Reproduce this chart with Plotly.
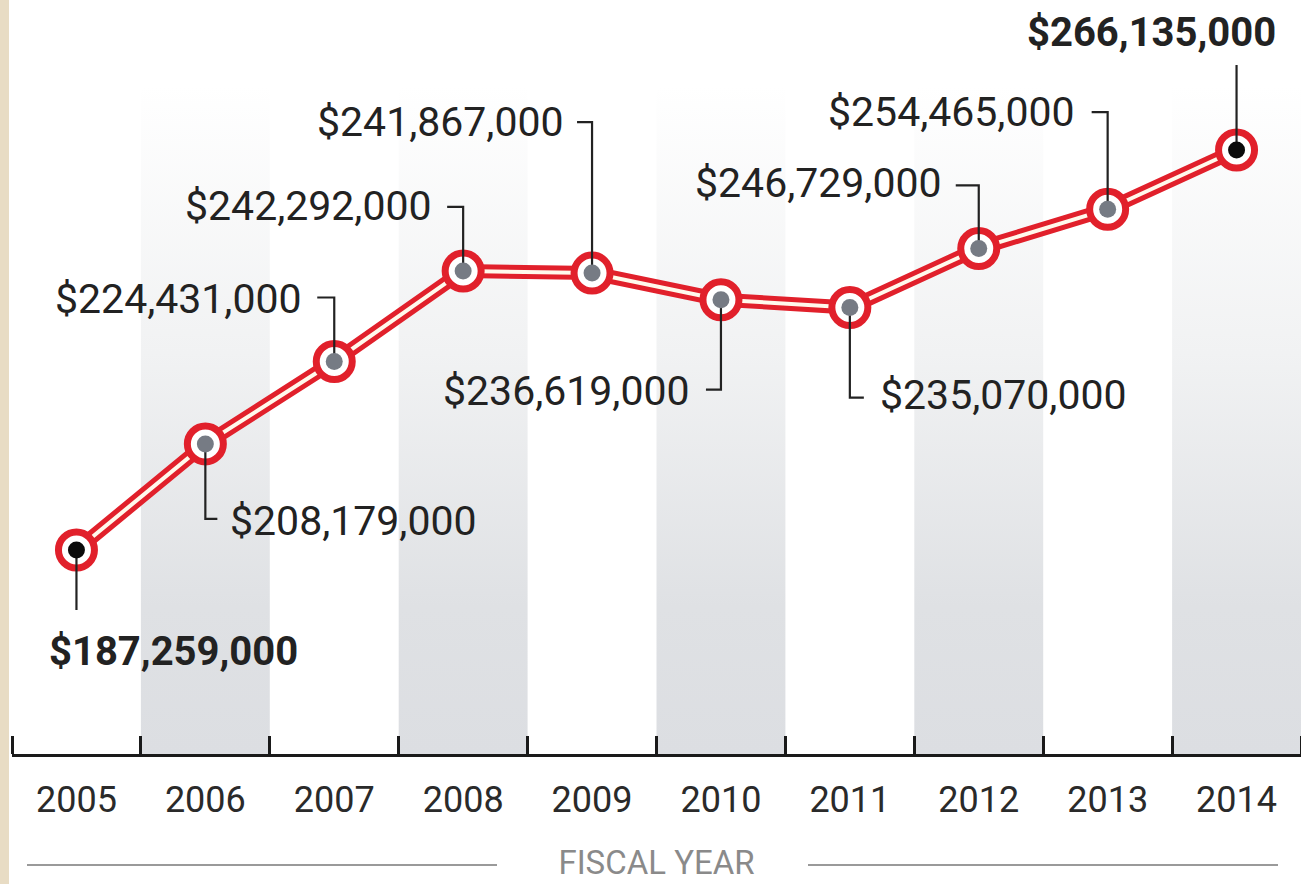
import plotly.graph_objects as go

# ---------------- data ----------------
YEARS = [2005, 2006, 2007, 2008, 2009, 2010, 2011, 2012, 2013, 2014]
BUDGET = [187259000, 208179000, 224431000, 242292000, 241867000,
          236619000, 235070000, 246729000, 254465000, 266135000]
YEAR_LABELS = [str(y) for y in YEARS]
SHADED_YEARS = [2006, 2008, 2010, 2012, 2014]
AXIS_TITLE = "FISCAL YEAR"

# ---------------- layout constants ----------------
W, H = 1301, 884
M_LEFT, M_BOTTOM = 12, 130
PLOT_W = W - M_LEFT
PLOT_H = H - M_BOTTOM
X_RANGE = [2004.5, 2014.5]
Y_RANGE = [147.03e6, 295.72e6]
PX_X = PLOT_W / (X_RANGE[1] - X_RANGE[0])
PX_Y = PLOT_H / (Y_RANGE[1] - Y_RANGE[0])

FONT = "Roboto, Liberation Sans, Arial, sans-serif"
RED = "#e1202b"
INK = "#222222"

def off_x(px):
    return px / PX_X

def off_y(px):
    # pixel offset (downwards positive) -> data offset
    return -px / PX_Y

def y_at_pixel(p):
    return Y_RANGE[1] - p / PX_Y

# label placement (pixel offsets relative to each point; y down)
LABEL_LAYOUT = [
    dict(path=[(0, 60)], text=(97, 101), anchor="center", bold=True),
    dict(path=[(0, 75), (12, 75)], text=(23, 77), anchor="left", bold=False),
    dict(path=[(0, -64), (-17, -64)], text=(-30, -63), anchor="right", bold=False),
    dict(path=[(0, -64), (-16, -64)], text=(-29, -65), anchor="right", bold=False),
    dict(path=[(0, -151), (-15, -151)], text=(-26, -151), anchor="right", bold=False),
    dict(path=[(0, 90), (-15, 90)], text=(-29, 91), anchor="right", bold=False),
    dict(path=[(0, 90), (14, 90)], text=(28, 87), anchor="left", bold=False),
    dict(path=[(0, -63), (-23, -63)], text=(-35, -65), anchor="right", bold=False),
    dict(path=[(0, -97), (-16, -97)], text=(-31, -97), anchor="right", bold=False),
    dict(path=[(0, -85)], text=(-85, -118), anchor="center", bold=True),
]

fig = go.Figure()

# shaded columns with vertical gradient
col_top = y_at_pixel(85)
for yr in SHADED_YEARS:
    fig.add_trace(go.Scatter(
        x=[yr - 0.5, yr + 0.5, yr + 0.5, yr - 0.5, yr - 0.5],
        y=[Y_RANGE[0], Y_RANGE[0], col_top, col_top, Y_RANGE[0]],
        mode="lines", fill="toself", line=dict(width=0),
        fillcolor="#e6e7ea",
        fillgradient=dict(type="vertical",
                          colorscale=[[0, "#dcdee2"], [0.22, "#dfe1e4"],
                                      [0.6, "#f1f2f3"], [1, "#ffffff"]]),
        hoverinfo="skip", showlegend=False))

# double red line
fig.add_trace(go.Scatter(x=YEARS, y=BUDGET, mode="lines",
                         line=dict(color=RED, width=14), hoverinfo="skip",
                         showlegend=False, cliponaxis=False))
fig.add_trace(go.Scatter(x=YEARS, y=BUDGET, mode="lines",
                         line=dict(color="#fff9ec", width=4), hoverinfo="skip",
                         showlegend=False, cliponaxis=False))
# ring markers
fig.add_trace(go.Scatter(x=YEARS, y=BUDGET, mode="markers",
                         marker=dict(size=36, color="white",
                                     line=dict(color=RED, width=7)),
                         hoverinfo="skip", showlegend=False, cliponaxis=False))

# connectors
cx, cy = [], []
for yr, val, lay in zip(YEARS, BUDGET, LABEL_LAYOUT):
    cx.append(yr)
    cy.append(val)
    for px, py in lay["path"]:
        cx.append(yr + off_x(px))
        cy.append(val + off_y(py))
    cx.append(None)
    cy.append(None)
fig.add_trace(go.Scatter(x=cx, y=cy, mode="lines",
                         line=dict(color=INK, width=2.2),
                         hoverinfo="skip", showlegend=False, cliponaxis=False))

# centre dots
n = len(YEARS)
dot_colors = ["#0b0b0b" if i in (0, n - 1) else "#767b84" for i in range(n)]
fig.add_trace(go.Scatter(x=YEARS, y=BUDGET, mode="markers",
                         marker=dict(size=17, color=dot_colors, line=dict(width=0)),
                         hoverinfo="skip", showlegend=False, cliponaxis=False))

# value labels
for yr, val, lay in zip(YEARS, BUDGET, LABEL_LAYOUT):
    txt = "${:,.0f}".format(val)
    size = 41
    if lay["bold"]:
        txt = "<b>" + txt + "</b>"
        size = 40
    tx, ty = lay["text"]
    fig.add_annotation(x=yr + off_x(tx), y=val + off_y(ty),
                       xref="x", yref="y", text=txt, showarrow=False,
                       xanchor=lay["anchor"], yanchor="middle",
                       font=dict(family=FONT, size=size, color=INK))

# decorative shapes: beige strip and lines beside axis title
def paper_x(px):
    return (px - M_LEFT) / PLOT_W

def paper_y(py):
    return (PLOT_H - py) / PLOT_H

shapes = [
    dict(type="rect", xref="paper", yref="paper",
         x0=paper_x(0), x1=paper_x(9), y0=paper_y(H), y1=paper_y(0),
         fillcolor="#e8dcc4", line=dict(width=0), layer="above"),
    dict(type="line", xref="paper", yref="paper",
         x0=paper_x(27), x1=paper_x(497), y0=paper_y(865), y1=paper_y(865),
         line=dict(color="#9a9a9a", width=2)),
    dict(type="line", xref="paper", yref="paper",
         x0=paper_x(808), x1=paper_x(1278), y0=paper_y(865), y1=paper_y(865),
         line=dict(color="#9a9a9a", width=2)),
]

fig.update_layout(
    width=W, height=H,
    margin=dict(l=M_LEFT, r=0, t=0, b=M_BOTTOM, pad=0),
    paper_bgcolor="white", plot_bgcolor="white",
    showlegend=False,
    shapes=shapes,
    xaxis=dict(range=X_RANGE, tickvals=YEARS, ticktext=YEAR_LABELS,
               ticks="", showgrid=False, zeroline=False,
               showline=True, linecolor="#1a1a1a", linewidth=3,
               minor=dict(tick0=2004.5, dtick=1, ticks="inside", ticklen=18,
                          tickwidth=3, tickcolor="#1a1a1a", showgrid=False),
               tickfont=dict(family=FONT, size=36, color="#2a2a2a"),
               ticklabelstandoff=12,
               title=dict(text=AXIS_TITLE, standoff=31,
                          font=dict(family=FONT, size=33, color="#8a8a8a")),
               fixedrange=True),
    yaxis=dict(range=Y_RANGE, visible=False, fixedrange=True),
)

fig.write_html("out.html", config={"displayModeBar": False},
               post_script="document.body.style.margin='0';document.body.style.overflow='hidden';")
